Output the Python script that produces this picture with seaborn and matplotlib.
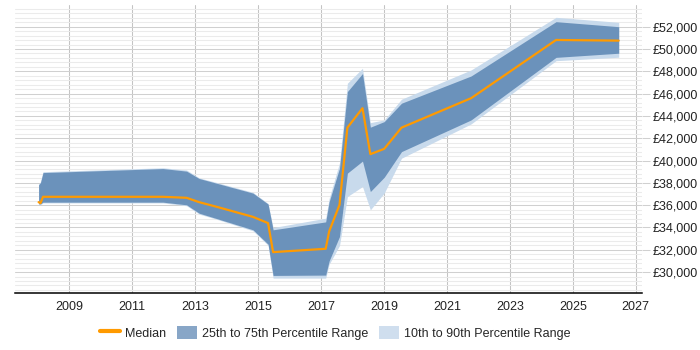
import matplotlib
matplotlib.use("Agg")
import matplotlib.pyplot as plt
from matplotlib.lines import Line2D
from matplotlib.patches import Patch
from matplotlib.ticker import FuncFormatter, MultipleLocator
import seaborn as sns
import pandas as pd

# ---- data (decimal years) ----
years = [2008.03, 2008.09, 2008.17, 2011.98, 2012.73, 2013.13, 2013.73, 2014.84,
         2015.32, 2015.48, 2017.15, 2017.26, 2017.59, 2017.84, 2018.32, 2018.57,
         2019.01, 2019.56, 2021.77, 2024.47, 2026.46]
median = [36270, 36180, 36750, 36750, 36660, 36270, 35820, 34950, 34390, 31790,
          32090, 33640, 36030, 42950, 44690, 40570, 41050, 42950, 45590, 50810, 50750]
p75 = [37820, 38030, 38920, 39280, 39050, 38390, 37930, 37080, 36100, 33790,
       34500, 36300, 39320, 46180, 47800, 42990, 43490, 45140, 47580, 52450, 52000]
p25 = [36120, 36120, 36270, 36270, 36030, 35280, 34760, 33790, 32500, 29700,
       29730, 31000, 33190, 38870, 39950, 37220, 38500, 40800, 43640, 49250, 49620]
p90 = [37900, 38100, 39000, 39350, 39150, 38450, 38000, 37150, 36150, 33990,
       34830, 36600, 39800, 46930, 48270, 43400, 43640, 45500, 48120, 52840, 52390]
p10 = [36050, 36050, 36200, 36200, 35950, 35200, 34700, 33700, 32400, 29460,
       29460, 30700, 32380, 36770, 37670, 35580, 37080, 40210, 43280, 48950, 49260]
xticks = [2009, 2011, 2013, 2015, 2017, 2019, 2021, 2023, 2025, 2027]

df = pd.DataFrame({"year": years, "median": median})

sns.set_style("white")
plt.rcParams["font.family"] = ["Liberation Sans", "DejaVu Sans"]

fig = plt.figure(figsize=(7, 3.5), dpi=100)
ax = fig.add_axes([15 / 700, 1 - 292.5 / 350, (642 - 15) / 700, (292.5 - 5) / 350])

light = "#c8daec"
dark = "#6b92bb"
orange = "#ff9a00"

ax.fill_between(years, p10, p90, color=light, lw=0, zorder=2)
ax.fill_between(years, p25, p75, color=dark, lw=0, zorder=3)
sns.lineplot(data=df, x="year", y="median", ax=ax, color=orange, lw=1.6, zorder=4)

ax.set_xlim(2007.28, 2027.2)
ax.set_ylim(28170, 53944)
ax.set_xticks(xticks)
ax.set_xticklabels([str(t) for t in xticks])
ax.yaxis.set_major_locator(MultipleLocator(2000))
ax.yaxis.set_minor_locator(MultipleLocator(400))
ax.yaxis.set_major_formatter(FuncFormatter(lambda v, p: f"£{int(v):,}"))
ax.yaxis.tick_right()
ax.set_xlabel("")
ax.set_ylabel("")

ax.grid(axis="y", which="major", color="#d0d0d0", lw=0.75, zorder=0)
ax.grid(axis="y", which="minor", color="#ebebeb", lw=0.75, zorder=0)
ax.grid(axis="x", which="major", color="#c4c4c4", lw=0.75, zorder=0)
ax.set_axisbelow(True)

for s in ["top", "left", "right"]:
    ax.spines[s].set_visible(False)
ax.spines["bottom"].set_color("black")
ax.spines["bottom"].set_linewidth(1.1)

ax.tick_params(axis="x", which="major", direction="out", length=3, width=0.8,
               color="black", labelsize=9, pad=3, labelcolor="#222222")
ax.tick_params(axis="y", which="major", direction="out", length=6, width=0.75,
               color="#d0d0d0", labelsize=9, pad=2, labelcolor="#222222")
ax.tick_params(axis="y", which="minor", length=0)

handles = [
    Line2D([0], [0], color=orange, lw=3),
    Patch(facecolor="#88a6c7", edgecolor="none"),
    Patch(facecolor="#cfdeee", edgecolor="none"),
]
labels = ["Median", "25th to 75th Percentile Range", "10th to 90th Percentile Range"]
fig.legend(handles, labels, loc="center", bbox_to_anchor=(0.479, 0.049), ncol=3,
           frameon=False, fontsize=9, handlelength=1.6, handleheight=1.2,
           handletextpad=0.4, columnspacing=0.9)

fig.savefig("out.png", dpi=100)
